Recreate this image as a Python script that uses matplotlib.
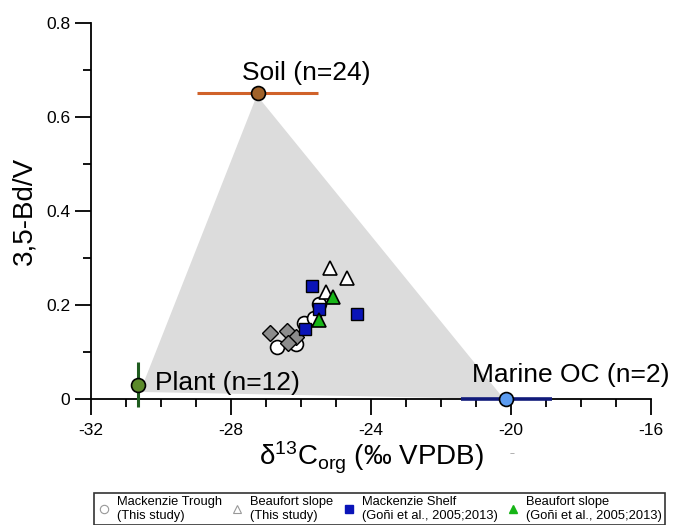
import numpy as np
import matplotlib.pyplot as plt
from matplotlib.lines import Line2D

plt.rcParams['font.family'] = ['Liberation Sans', 'DejaVu Sans']
plt.rcParams['mathtext.default'] = 'regular'
plt.rcParams['axes.unicode_minus'] = False

# end members: d13C, 3,5-Bd/V, errors
plant_x, plant_y, plant_yerr = -30.67, 0.030, 0.048
soil_x, soil_y, soil_xerr = -27.24, 0.651, 1.72
marine_x, marine_y, marine_xerr = -20.14, 0.0, 1.3

# mixing triangle vertices
tri_x = [-30.6, -27.26, -20.2]
tri_y = [0.015, 0.646, 0.0]

# Mackenzie Trough (this study)
trough_x = [-26.69, -26.14, -25.91, -25.62, -25.49]
trough_y = [0.110, 0.118, 0.162, 0.172, 0.202]
# unlabelled grey diamonds
diam_x = [-26.89, -26.41, -26.14, -26.38]
diam_y = [0.141, 0.145, 0.131, 0.120]
# Beaufort slope (this study)
bslope_x = [-25.18, -24.69, -25.29]
bslope_y = [0.278, 0.258, 0.228]
# Mackenzie Shelf (Goni et al.)
shelf_x = [-25.69, -25.48, -24.39, -25.88]
shelf_y = [0.240, 0.191, 0.180, 0.150]
# Beaufort slope (Goni et al.)
goni_x = [-25.08, -25.49]
goni_y = [0.218, 0.168]

fig = plt.figure(figsize=(6.78, 5.25), dpi=100)
ax = fig.add_axes([91/678, 1-399/525, 560/678, 376/525])

ax.fill(tri_x, tri_y, color='#dcdcdc', zorder=1, lw=0)

ax.errorbar(plant_x, plant_y, yerr=plant_yerr, fmt='o', ms=10, mfc='#5b8a2a', mec='black',
            mew=1.2, ecolor='#1f5c1f', elinewidth=2.2, capsize=0, zorder=5, clip_on=False)
ax.errorbar(soil_x, soil_y, xerr=soil_xerr, fmt='o', ms=10, mfc='#a0622a', mec='black',
            mew=1.2, ecolor='#d0622a', elinewidth=2.2, capsize=0, zorder=5)
ax.errorbar(marine_x, marine_y, xerr=marine_xerr, fmt='o', ms=10, mfc='#5b9bf0', mec='black',
            mew=1.2, ecolor='#101a7a', elinewidth=2.6, capsize=0, zorder=5, clip_on=False)

ax.plot(trough_x, trough_y, 'o', ms=10, mfc='white', mec='black', mew=1.2, zorder=3)
ax.plot(diam_x, diam_y, 'D', ms=8.5, mfc='#8c8c8c', mec='black', mew=1.0, zorder=3.5)
ax.plot(bslope_x, bslope_y, '^', ms=10, mfc='white', mec='black', mew=1.2, zorder=3.6)
ax.plot(shelf_x, shelf_y, 's', ms=9, mfc='#0a14b8', mec='black', mew=1.0, zorder=3.7)
ax.plot(goni_x, goni_y, '^', ms=10, mfc='#17b517', mec='black', mew=1.2, zorder=3.8)

ax.text(-27.69, 0.679, 'Soil (n=24)', fontsize=19, va='baseline', ha='left')
ax.text(-30.17, 0.019, 'Plant (n=12)', fontsize=19, va='baseline', ha='left')
ax.text(-21.11, 0.036, 'Marine OC (n=2)', fontsize=19, va='baseline', ha='left')

ax.set_xlim(-32, -16)
ax.set_ylim(0, 0.8)
ax.set_xticks([-32, -28, -24, -20, -16])
ax.set_xticks(np.arange(-32, -15, 1), minor=True)
ax.set_yticks([0, 0.2, 0.4, 0.6, 0.8])
ax.set_yticklabels(['0', '0.2', '0.4', '0.6', '0.8'])
ax.set_yticks(np.arange(0, 0.81, 0.1), minor=True)
ax.tick_params(which='major', length=11.5, width=1.3, labelsize=12.5)
ax.tick_params(axis='x', which='major', pad=6)
ax.tick_params(which='minor', length=5.8, width=1.3)
for s in ['top', 'right']:
    ax.spines[s].set_visible(False)
for s in ['left', 'bottom']:
    ax.spines[s].set_linewidth(1.3)

ax.set_xlabel(r'δ$^{13}$C$_{org}$ (‰ VPDB)', fontsize=20, labelpad=1)
ax.set_ylabel('3,5-Bd/V', fontsize=20, labelpad=6)
fig.text(512/678, 1-455/525, '~', fontsize=6, color='#666666', ha='center', va='center')

handles = [
    Line2D([], [], ls='', marker='o', ms=6, mfc='white', mec='#999999', mew=0.8),
    Line2D([], [], ls='', marker='^', ms=6, mfc='white', mec='#999999', mew=0.8),
    Line2D([], [], ls='', marker='s', ms=6, mfc='#0a14b8', mec='#0a14b8'),
    Line2D([], [], ls='', marker='^', ms=6, mfc='#17b517', mec='#17b517'),
]
labels = ['Mackenzie Trough\n(This study)', 'Beaufort slope\n(This study)',
          'Mackenzie Shelf\n(Goñi et al., 2005;2013)', 'Beaufort slope\n(Goñi et al., 2005;2013)']
leg = fig.legend(handles, labels, loc='center', bbox_to_anchor=(0.560, 0.031), ncol=4,
                 fontsize=9.3, frameon=True, fancybox=False, edgecolor='black',
                 handlelength=1.0, handletextpad=0.5, columnspacing=0.7,
                 borderpad=0.25, labelspacing=0.2)
leg.get_frame().set_linewidth(1.2)

fig.savefig('out.png', dpi=100)
